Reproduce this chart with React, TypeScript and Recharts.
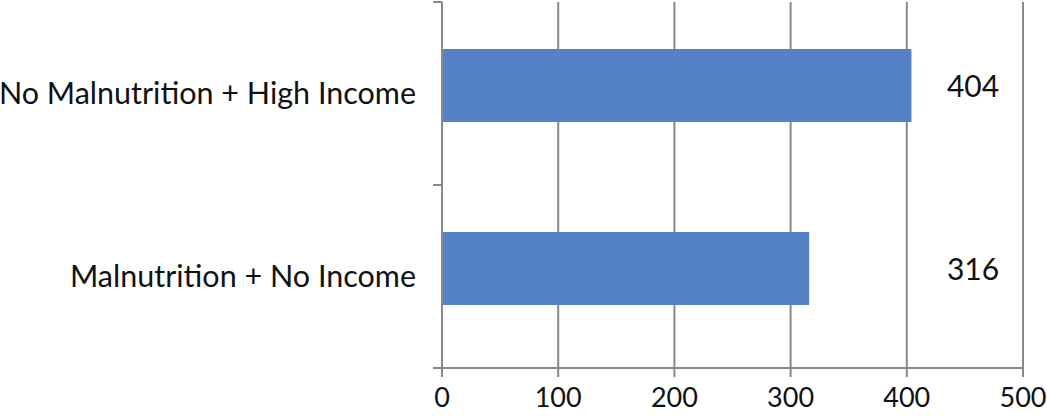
import { BarChart, Bar, XAxis, YAxis, CartesianGrid } from 'recharts';

// values
const categories = ['No Malnutrition + High Income', 'Malnutrition + No Income'];
const counts = [404, 316];
const xTicks = [0, 100, 200, 300, 400, 500];

const data = categories.map((name, i) => ({ name, count: counts[i] }));

const WIDTH = 1047;
const HEIGHT = 416;
const MARGIN = { top: 2, right: 24, bottom: 0, left: 0 };
const X_AXIS_HEIGHT = 48;
const Y_AXIS_WIDTH = 442;
const AXIS_X = MARGIN.left + Y_AXIS_WIDTH;
const PLOT_W = WIDTH - MARGIN.right - AXIS_X;
const BAND = (HEIGHT - MARGIN.top - MARGIN.bottom - X_AXIS_HEIGHT) / categories.length;
const BAR_SHIFT = 8; // bars sit a little above the band centre in the original
const LABEL_POS = 0.914; // value labels share one column near the right edge

const FONT = 'Lato, "Open Sans", sans-serif';
const FONT_SIZE = 30;
const GRID = '#898989';
const BAR_COLOR = '#5581C7';
const TEXT = '#111111';

const CategoryTick = ({ y, payload, index }: any) => (
    <g>
        <line x1={AXIS_X - 9} x2={AXIS_X} y1={y - BAND / 2} y2={y - BAND / 2} stroke={GRID} strokeWidth={2} />
        {index === categories.length - 1 && (
            <line x1={AXIS_X - 9} x2={AXIS_X} y1={y + BAND / 2} y2={y + BAND / 2} stroke={GRID} strokeWidth={2} />
        )}
        <text
            x={AXIS_X - 26}
            y={y}
            dy={10}
            textAnchor="end"
            fontFamily={FONT}
            fontSize={30.5}
            fill={TEXT}
        >
            {payload.value}
        </text>
    </g>
);

const ShiftedBar = (props: any) => {
    const { x, y, width, height, payload } = props;
    const top = y - BAR_SHIFT;
    return (
        <g>
            <rect x={x} y={top} width={width} height={height} fill={BAR_COLOR} />
            <text
                x={AXIS_X + PLOT_W * LABEL_POS}
                y={top + height / 2}
                dy={11}
                textAnchor="middle"
                fontFamily={FONT}
                fontSize={FONT_SIZE}
                fill={TEXT}
            >
                {payload.count}
            </text>
        </g>
    );
};

export default function App() {
    return (
        <div style={{ position: 'absolute', left: 0, top: 0, background: '#fff' }}>
            <BarChart width={WIDTH} height={HEIGHT} data={data} layout="vertical" margin={MARGIN}>
                <CartesianGrid horizontal={false} stroke={GRID} strokeWidth={2} />
                <XAxis
                    type="number"
                    domain={[0, 500]}
                    ticks={xTicks}
                    height={X_AXIS_HEIGHT}
                    axisLine={{ stroke: GRID, strokeWidth: 2 }}
                    tickLine={{ stroke: GRID, strokeWidth: 2 }}
                    tickSize={9}
                    tickMargin={11}
                    tick={{ fontFamily: FONT, fontSize: 27, fill: TEXT }}
                />
                <YAxis
                    type="category"
                    dataKey="name"
                    width={Y_AXIS_WIDTH}
                    axisLine={{ stroke: GRID, strokeWidth: 2 }}
                    tickLine={false}
                    tick={<CategoryTick />}
                    interval={0}
                />
                <Bar dataKey="count" barSize={73} shape={<ShiftedBar />} isAnimationActive={false} />
            </BarChart>
        </div>
    );
}
